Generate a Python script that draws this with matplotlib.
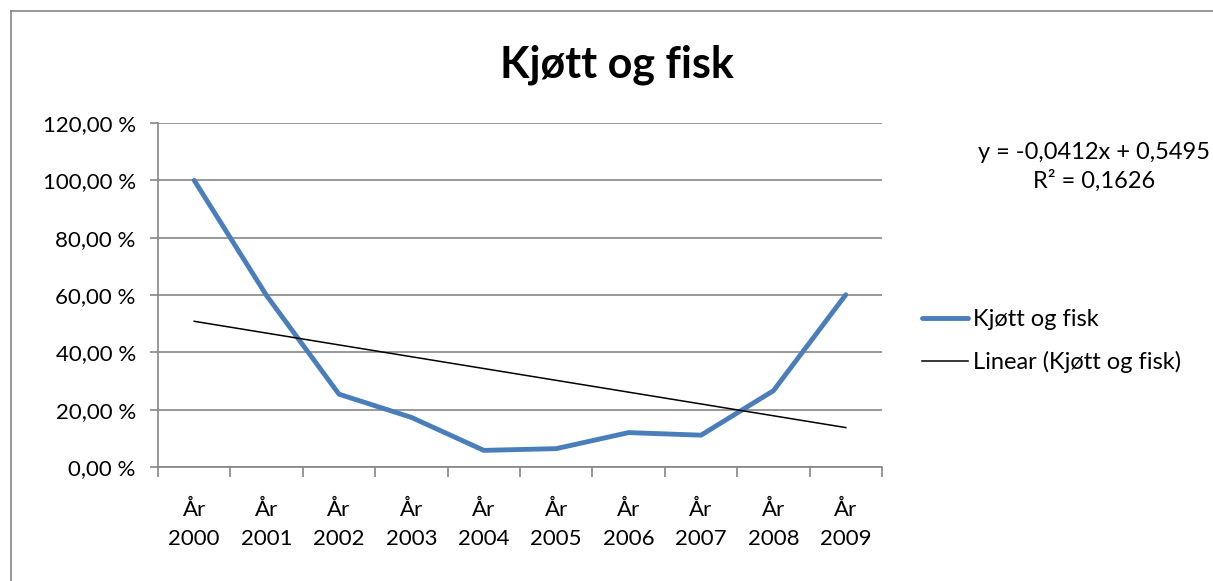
#!/usr/bin/env python3
# Kjøtt og fisk - line chart with linear trend line

import matplotlib
matplotlib.use('Agg')
import matplotlib.pyplot as plt
from matplotlib.ticker import FuncFormatter, FixedLocator
from matplotlib.lines import Line2D

years = ['År\n2000', 'År\n2001', 'År\n2002', 'År\n2003', 'År\n2004',
         'År\n2005', 'År\n2006', 'År\n2007', 'År\n2008', 'År\n2009']
values = [1.00, 0.598, 0.254, 0.173, 0.058, 0.064, 0.120, 0.111, 0.266, 0.601]

# trend line as shown in the chart
trend_slope = -0.0412
trend_intercept = 0.5495
trend_text = 'y = -0,0412x + 0,5495\nR² = 0,1626'

plt.rcParams['font.family'] = ['Lato', 'DejaVu Sans']

fig = plt.figure(figsize=(12.13, 5.81), dpi=100)
# chart area border (clipped at right and bottom in the original)
bx, by = 10.5 / 1213, 1 - 10.5 / 581
fig.add_artist(Line2D([bx, 1.02], [by, by], transform=fig.transFigure,
                      color='#868686', linewidth=1.2, clip_on=False))
fig.add_artist(Line2D([bx, bx], [-0.02, by], transform=fig.transFigure,
                      color='#868686', linewidth=1.2, clip_on=False))

ax = fig.add_axes([158 / 1213, 1 - 467 / 581, 724 / 1213, 344 / 581])

x = list(range(len(values)))
ax.plot(x, values, color='#4a7ebb', linewidth=3.5, label='Kjøtt og fisk',
        solid_capstyle='round', zorder=3)
trend = [trend_slope * (i + 1) + trend_intercept for i in x]
ax.plot(x, trend, color='black', linewidth=1.1,
        label='Linear (Kjøtt og fisk)', zorder=4)

ax.set_xlim(-0.5, len(values) - 0.5)
ax.set_ylim(0, 1.2)
ax.set_yticks([0, 0.2, 0.4, 0.6, 0.8, 1.0, 1.2])
ax.yaxis.set_major_formatter(
    FuncFormatter(lambda v, p: ('%.2f %%' % (v * 100)).replace('.', ',')))
ax.set_xticks(x)
ax.set_xticklabels(years)
ax.xaxis.set_minor_locator(FixedLocator([i - 0.5 for i in range(len(values) + 1)]))
ax.tick_params(axis='x', which='major', length=0, pad=24, labelsize=16)
ax.tick_params(axis='x', which='minor', length=7, color='#868686', width=1.2)
ax.tick_params(axis='y', length=6, color='#868686', width=1.2, labelsize=16, pad=10)
for lbl in ax.get_xticklabels():
    lbl.set_linespacing(1.55)

ax.grid(axis='y', color='#868686', linewidth=1.2)
ax.set_axisbelow(True)
for side in ['top', 'right']:
    ax.spines[side].set_visible(False)
for side in ['left', 'bottom']:
    ax.spines[side].set_color('#868686')
    ax.spines[side].set_linewidth(1.2)

fig.text(617 / 1213, 1 - 65 / 581, 'Kjøtt og fisk', fontsize=31,
         fontweight='bold', ha='center', va='center')
fig.text(1094 / 1213, 1 - 167 / 581, trend_text, fontsize=17,
         ha='center', va='center', linespacing=1.4)

fig.legend(loc='center left', bbox_to_anchor=(913 / 1213, 1 - 341 / 581),
           frameon=False, fontsize=17, handlelength=1.95, handletextpad=0.2,
           labelspacing=0.9, borderaxespad=0)

plt.savefig('out.png', dpi=100)
